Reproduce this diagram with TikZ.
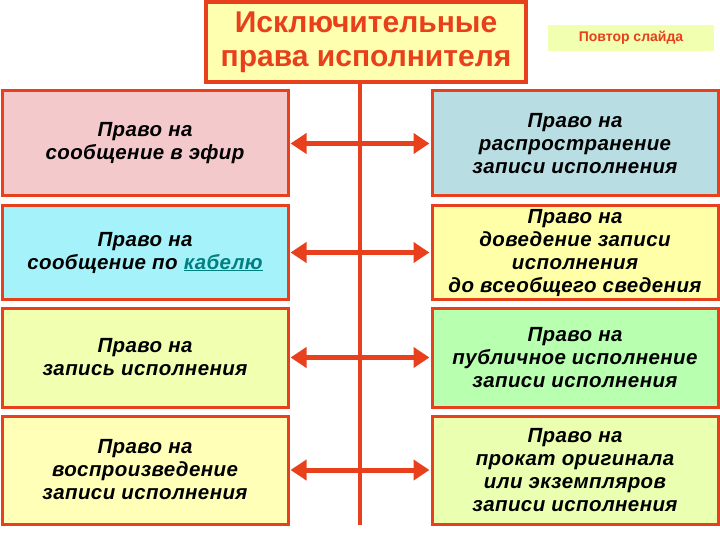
\documentclass[tikz,border=0pt]{standalone}
\usepackage{fontspec}
\setmainfont{Liberation Sans}
\usetikzlibrary{arrows.meta}
\definecolor{bd}{HTML}{E8401C}
\tikzset{box/.style={draw=bd,line width=3pt,minimum width=286pt,align=center,inner sep=0pt,font=\fontsize{20.5}{23}\bfseries\itshape\addfontfeatures{LetterSpace=2}},
arr/.style={draw=bd,line width=5pt,{Triangle[length=16pt,width=20pt]}-{Triangle[length=16pt,width=20pt]},shorten <=1pt,shorten >=1pt}}
\begin{document}
\begin{tikzpicture}[x=1pt,y=-1pt]
\useasboundingbox (0,0) rectangle (720,540);
\node[draw=bd,line width=4pt,fill={rgb,255:red,255;green,255;blue,176},minimum width=320pt,minimum height=80pt,align=center,inner sep=0pt,font=\fontsize{30}{34}\bfseries,text=bd] (t) at (366,42) {Исключительные\\права исполнителя};
\node[fill={rgb,255:red,240;green,255;blue,176},minimum width=166pt,minimum height=26pt,font=\fontsize{14}{16}\bfseries,text=bd] (p) at (631,38) {Повтор слайда};
\coordinate (top) at (360,84);
\coordinate (bot) at (360,525);
\draw[bd,line width=4pt] (top) -- (bot);
\foreach \n/\y/\h/\myl/\myr/\tl/\tr in {
1/143.5/105/{244,201,204}/{184,222,228}/{Право на\\сообщение в эфир}/{Право на\\распространение\\записи исполнения},
2/252.5/93/{166,242,250}/{255,255,168}/{Право на\\сообщение по \textcolor{teal}{\underline{кабелю}}}/{Право на\\доведение записи\\исполнения\\до всеобщего сведения},
3/357.5/99/{240,255,176}/{184,255,176}/{Право на\\запись исполнения}/{Право на\\публичное исполнение\\записи исполнения},
4/470/108/{255,255,184}/{234,255,176}/{Право на\\воспроизведение\\записи исполнения}/{Право на\\прокат оригинала\\или экземпляров\\записи исполнения}}{
\definecolor{cl\n}{RGB}{\myl}\definecolor{cr\n}{RGB}{\myr}
\node[box,minimum height=\h pt,fill=cl\n] (l\n) at (145,\y) {\tl};
\node[box,minimum height=\h pt,fill=cr\n] (r\n) at (575,\y) {\tr};
\draw[arr] (l\n.east) -- (r\n.west);
}
\end{tikzpicture}
\end{document}
